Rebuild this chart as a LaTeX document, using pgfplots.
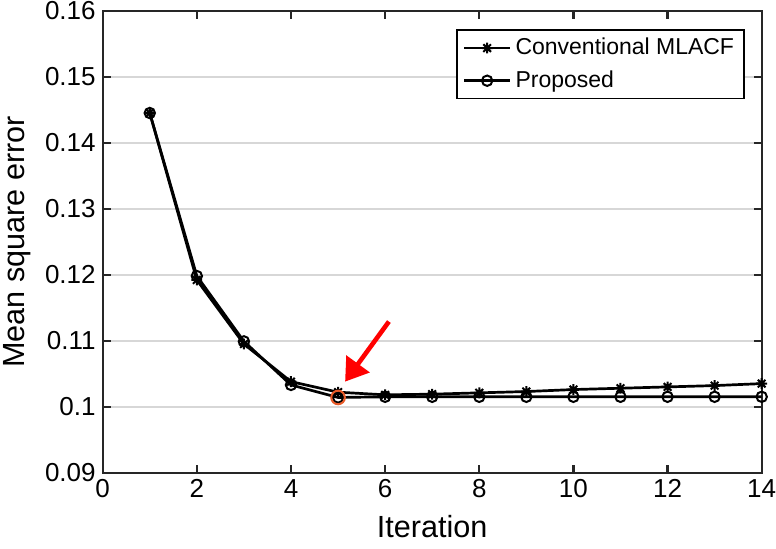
\documentclass[border=0pt]{standalone}
\usepackage{pgfplots}
\pgfplotsset{compat=1.18}
\usepackage{fontspec}
\setmainfont{Liberation Sans}
\usetikzlibrary{arrows.meta}
\definecolor{gridgray}{RGB}{215,215,215}
\definecolor{axgray}{RGB}{38,38,38}
\definecolor{hlred}{RGB}{232,90,40}
\pgfdeclareplotmark{mstar}{%
 \pgfpathmoveto{\pgfqpoint{-\pgfplotmarksize}{0pt}}\pgfpathlineto{\pgfqpoint{\pgfplotmarksize}{0pt}}%
 \pgfpathmoveto{\pgfqpoint{0pt}{-\pgfplotmarksize}}\pgfpathlineto{\pgfqpoint{0pt}{\pgfplotmarksize}}%
 \pgfpathmoveto{\pgfqpoint{-0.707\pgfplotmarksize}{-0.707\pgfplotmarksize}}\pgfpathlineto{\pgfqpoint{0.707\pgfplotmarksize}{0.707\pgfplotmarksize}}%
 \pgfpathmoveto{\pgfqpoint{-0.707\pgfplotmarksize}{0.707\pgfplotmarksize}}\pgfpathlineto{\pgfqpoint{0.707\pgfplotmarksize}{-0.707\pgfplotmarksize}}%
 \pgfusepathqstroke}
\begin{document}
\begin{tikzpicture}
\useasboundingbox (-51.35pt,-37.65pt) rectangle (336.65pt,236.35pt);
\begin{axis}[
  at={(0,0)}, anchor=south west,
  scale only axis, width=329.5pt, height=231pt,
  xmin=0, xmax=14, ymin=0.09, ymax=0.16,
  xtick={0,2,...,14},
  ytick={0.09,0.10,0.11,0.12,0.13,0.14,0.15,0.16},
  /pgf/number format/assume math mode=true,
  yticklabel style={/pgf/number format/fixed,/pgf/number format/precision=2},
  tick label style={font=\fontsize{13}{15}\selectfont, color=black},
  label style={font=\fontsize{15.3}{17}\selectfont},
  xlabel={Iteration}, ylabel={Mean square error},
  xlabel style={at={([yshift=-27pt]axis description cs:0.5,0)}, anchor=center},
  ylabel style={at={([xshift=-43pt]axis description cs:0,0.5)}, anchor=center},
  tick align=inside, major tick length=4pt,
  axis line style={color=axgray, line width=1.1pt},
  every tick/.style={color=axgray, line width=1.1pt},
  ymajorgrids, grid style={gridgray, line width=1pt},
  legend cell align=left,
  legend style={at={([xshift=-8.35pt,yshift=-9.3pt]rel axis cs:1,1)}, anchor=north east,
    draw=black, line width=0.9pt, font=\fontsize{11.5}{13}\selectfont,
    inner xsep=3pt, inner ysep=2pt, row sep=2.5pt},
  legend image code/.code={\draw[mark repeat=2,mark phase=2] plot coordinates {(0pt,0pt)(11.5pt,0pt)(23pt,0pt)};},
]
\addplot[black, line width=1.35pt, mark=mstar, mark size=2.7pt, mark options={line width=1pt}] coordinates {
(1,0.1445) (2,0.1192) (3,0.1095) (4,0.1038) (5,0.1022) (6,0.1018) (7,0.1019)
(8,0.1021) (9,0.1023) (10,0.1026) (11,0.1028) (12,0.1030) (13,0.1032) (14,0.1035)};
\addlegendentry{Conventional MLACF}
\addplot[black, line width=1.35pt, mark=o, mark size=2.6pt, mark options={line width=1pt}] coordinates {
(1,0.1445) (2,0.1198) (3,0.1099) (4,0.1033) (5,0.1014) (6,0.1015) (7,0.1015)
(8,0.1015) (9,0.1015) (10,0.1015) (11,0.1015) (12,0.1015) (13,0.1015) (14,0.1015)};
\addlegendentry{Proposed}
\addplot[hlred, only marks, mark=o, mark size=3.4pt, mark options={line width=1pt}, forget plot] coordinates {(5,0.1014)};
\draw[red, line width=2.3pt, -{Triangle[length=11pt,width=14pt]}] (axis cs:6.08,0.1129) -- (axis cs:5.15,0.1038);
\end{axis}
\end{tikzpicture}
\end{document}
